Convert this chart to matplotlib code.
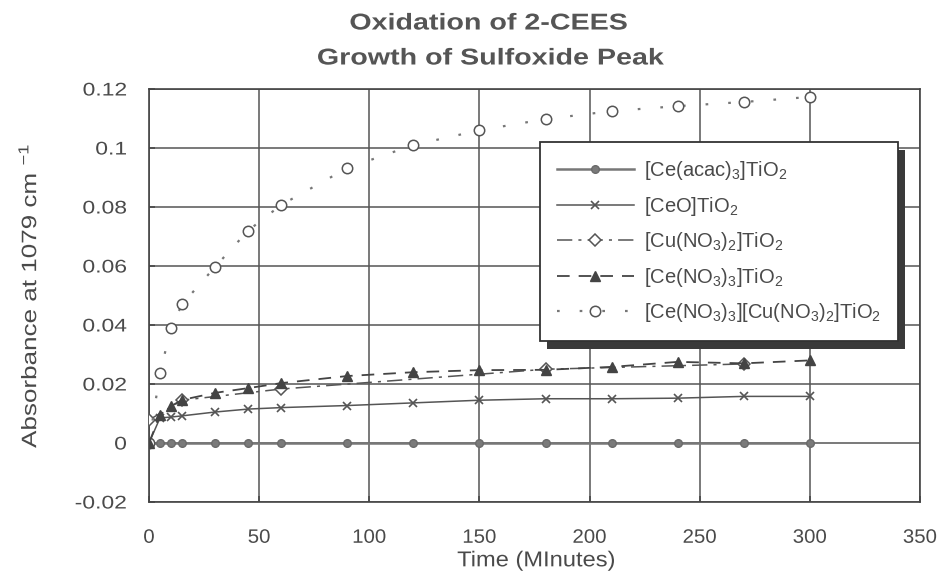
import matplotlib
matplotlib.use("Agg")
import matplotlib.pyplot as plt
from matplotlib.patheffects import AbstractPathEffect
from matplotlib.transforms import Affine2D
from matplotlib.patches import Rectangle

plt.rcParams['font.family'] = ['Liberation Sans', 'DejaVu Sans']
plt.rcParams['mathtext.fontset'] = 'custom'
plt.rcParams['mathtext.rm'] = 'Liberation Sans'
plt.rcParams['mathtext.it'] = 'Liberation Sans:italic'
plt.rcParams['mathtext.bf'] = 'Liberation Sans:bold'

# ---------------- data ----------------
time = [0, 5, 10, 15, 30, 45, 60, 90, 120, 150, 180, 210, 240, 270, 300]
ce_acac = [0, 0, 0, 0, 0, 0, 0, 0, 0, 0, 0, 0, 0, 0, 0]
ceo = [0.0, 0.0085, 0.0088, 0.0092, 0.0105, 0.0115, 0.0120, 0.0127, 0.0136,
       0.0145, 0.0150, 0.0150, 0.0152, 0.0158, 0.0158]
cu_time = [0, 15, 60, 180, 270]
cu_no3 = [0.0078, 0.0145, 0.0183, 0.0250, 0.0268]
ce_no3 = [0.0, 0.0095, 0.0125, 0.0146, 0.0170, 0.0186, 0.0203, 0.0227, 0.0240,
          0.0247, 0.0248, 0.0258, 0.0275, 0.0270, 0.0280]
combo = [0.0, 0.0237, 0.0390, 0.0470, 0.0597, 0.0720, 0.0807, 0.0932, 0.1010,
         0.1060, 0.1098, 0.1125, 0.1142, 0.1156, 0.1173]

labels = [r'[Ce(acac)$_3$]TiO$_2$',
          r'[CeO]TiO$_2$',
          r'[Cu(NO$_3$)$_2$]TiO$_2$',
          r'[Ce(NO$_3$)$_3$]TiO$_2$',
          r'[Ce(NO$_3$)$_3$][Cu(NO$_3$)$_2$]TiO$_2$']
xticks = [0, 50, 100, 150, 200, 250, 300, 350]
yticks = [-0.02, 0, 0.02, 0.04, 0.06, 0.08, 0.1, 0.12]
ytick_labels = ['-0.02', '0', '0.02', '0.04', '0.06', '0.08', '0.1', '0.12']


class Stretch(AbstractPathEffect):
    """Widen glyphs along the text direction (keeps text as text)."""
    def __init__(self, sx, c=0.5):
        super().__init__()
        self.sx = sx
        self.c = c

    def draw_path(self, renderer, gc, tpath, affine, rgbFace=None):
        if len(tpath.vertices) == 0:
            return
        ext = tpath.get_extents()
        xa = ext.x0 + self.c * (ext.x1 - ext.x0)
        pre = Affine2D().translate(-xa, 0).scale(self.sx, 1).translate(xa, 0)
        renderer.draw_path(gc, tpath, pre + affine, rgbFace)


TXT = '#4a4a4a'
W, H = 943, 573
fig = plt.figure(figsize=(W / 100, H / 100), dpi=100)
fig.patch.set_facecolor('white')
ax = fig.add_axes([149 / W, 71 / H, 771 / W, 413 / H])

ax.plot(time, ce_acac, color='#777777', lw=1.8, marker='o', ms=5.5,
        mfc='#7a7a7a', mec='#6a6a6a', label=labels[0], zorder=3)
ax.plot(time, ceo, color='#555555', lw=1.1, marker='x', ms=5.5, mew=1.2,
        label=labels[1], zorder=3)
ax.plot(cu_time, cu_no3, color='#555555', lw=1.1, dashes=(10, 4, 2, 4),
        marker='D', ms=6, mfc='white', mec='#555555', mew=1.1,
        label=labels[2], zorder=3)
ax.plot(time, ce_no3, color='#444444', lw=1.3, dashes=(7, 5), marker='^',
        ms=6.5, mfc='#444444', mec='#444444', label=labels[3], zorder=4)
ax.plot(time, combo, color='#777777', lw=1.6, dashes=(1.2, 9), marker='o',
        ms=7.5, mfc='white', mec='#555555', mew=1.1, label=labels[4], zorder=3)

ax.set_xlim(0, 350)
ax.set_ylim(-0.02, 0.12)
ax.set_xticks(xticks)
ax.set_xticklabels([str(v) for v in xticks])
ax.set_yticks(yticks)
ax.set_yticklabels(ytick_labels)
ax.grid(True, color='#555555', lw=1.1)
ax.set_axisbelow(True)
for s in ax.spines.values():
    s.set_color('#444444')
    s.set_linewidth(1.2)
ax.tick_params(axis='both', direction='in', length=4, width=1.1,
               colors='#444444', labelcolor=TXT)
ax.tick_params(axis='x', pad=20, labelsize=14)
ax.tick_params(axis='y', pad=16, labelsize=13.2)
for t in ax.get_yticklabels():
    t.set_path_effects([Stretch(1.25, c=1.0)])
for t in ax.get_xticklabels():
    t.set_path_effects([Stretch(1.05, c=0.5)])

ax.set_xlabel('Time (MInutes)', fontsize=15.5, color=TXT)
ax.xaxis.set_label_coords(0.502, -0.117)
ax.xaxis.label.set_path_effects([Stretch(1.1, c=0.5)])
ax.set_ylabel(r'Absorbance at 1079 cm $^{-1}$', fontsize=15, color=TXT)
ax.yaxis.set_label_coords(-0.141, 0.5)
ax.yaxis.label.set_path_effects([Stretch(1.25, c=0.5)])

t1 = fig.text(488 / W, 1 - 23 / H, 'Oxidation of 2-CEES', ha='center',
              va='center', fontsize=16.5, fontweight='bold', color='#555555')
t2 = fig.text(490 / W, 1 - 58 / H, 'Growth of Sulfoxide Peak', ha='center',
              va='center', fontsize=16.5, fontweight='bold', color='#555555')
for t in (t1, t2):
    t.set_path_effects([Stretch(1.25, c=0.5)])

leg = ax.legend(loc='upper left', bbox_to_anchor=(540 / W, 1 - 142 / H),
                bbox_transform=fig.transFigure, borderaxespad=0,
                fontsize=14.5, handlelength=3.8, handletextpad=0.5,
                borderpad=0.85, labelspacing=0.62, frameon=True,
                fancybox=False, framealpha=1, edgecolor='#333333')
leg.get_frame().set_linewidth(1.3)
leg.set_zorder(10)
for t in leg.get_texts():
    t.set_color(TXT)

fig.canvas.draw()
bb = leg.get_window_extent()
shadow = Rectangle((bb.x0 + 7, bb.y0 - 8), bb.width, bb.height,
                   transform=None, facecolor='#3a3a3a', edgecolor='none',
                   zorder=9)
ax.add_artist(shadow)
shadow.set_clip_on(False)

fig.savefig('out.png', dpi=100, facecolor='white')
